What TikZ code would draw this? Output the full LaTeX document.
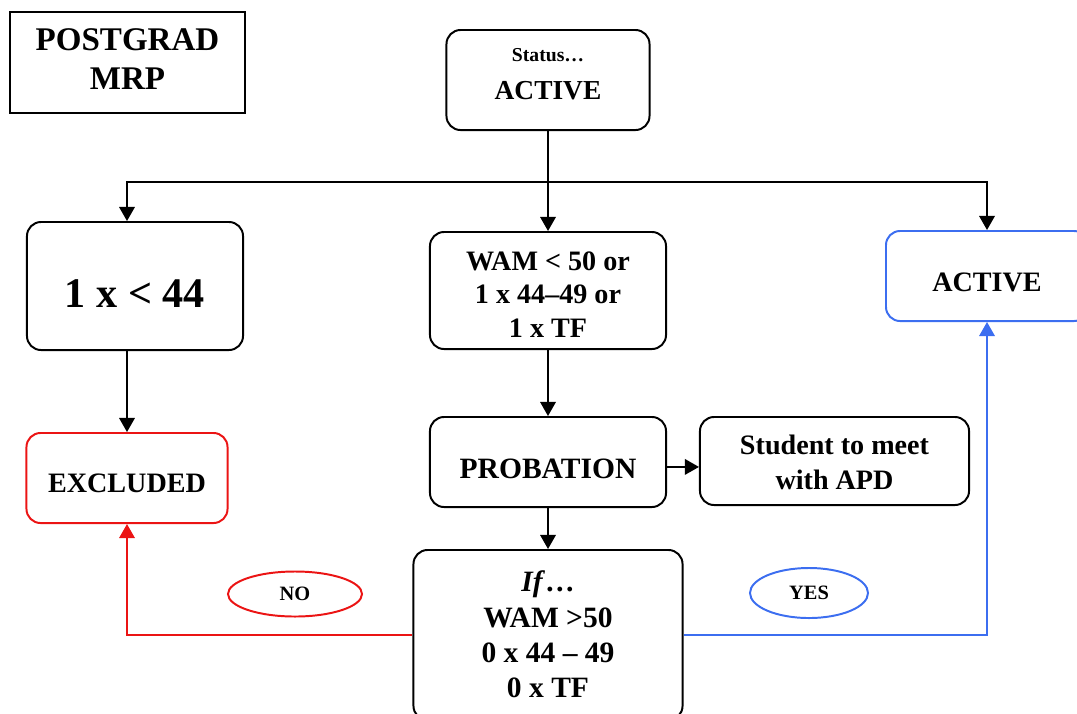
\documentclass[tikz,border=0pt]{standalone}
\usepackage{fontspec}
\setmainfont{Liberation Serif}
\usetikzlibrary{arrows.meta,shapes.geometric}
\definecolor{okblue}{RGB}{60,110,240}
\definecolor{nored}{RGB}{235,20,20}
% lines of a box, moved up or down inside it
\newcommand{\boxlines}[2]{\raisebox{#1}[\height][\depth]{\begin{tabular}{@{}c@{}}#2\end{tabular}}}
\begin{document}
\begin{tikzpicture}[x=0.025cm,y=-0.025cm,
  box/.style={draw,line width=1.4pt,rounded corners=10pt,inner sep=0pt,
    font=\fontsize{20}{24}\selectfont\bfseries},
  oval/.style={draw,ellipse,line width=1.4pt,inner sep=0pt,font=\fontsize{14.5}{16}\selectfont\bfseries},
  arr/.style={line width=1.4pt,-{Triangle[length=10pt,width=11pt]}}]
  \useasboundingbox (0,0) rectangle (1077,713);
  \clip (0,0) rectangle (1077,713);
  \node[box,rounded corners=0pt,minimum width=5.875cm,minimum height=2.525cm,
    font=\fontsize{23.5}{27.7}\selectfont\bfseries] (title) at (127.5,62.5)
    {\boxlines{0pt}{POSTGRAD\\MRP}};
  \node[box,minimum width=5.075cm,minimum height=2.5cm,font=\fontsize{19.5}{27}\selectfont\bfseries]
    (status) at (548,80) {\boxlines{5pt}{{\fontsize{14}{16}\selectfont Status\ldots}\\ACTIVE}};
  \node[box,minimum width=5.4cm,minimum height=3.2cm,font=\fontsize{30}{34}\selectfont\bfseries]
    (less44) at (135,286) {\boxlines{-8.8pt}{1 x < 44}};
  \node[box,minimum width=5.9cm,minimum height=2.925cm,font=\fontsize{20}{23.8}\selectfont\bfseries]
    (wam) at (548,290.5) {\boxlines{-4.7pt}{WAM < 50 or\\1 x 44--49 or\\1 x TF}};
  \node[box,draw=okblue,minimum width=5.05cm,minimum height=2.25cm] (active) at (987,276)
    {\boxlines{-6.4pt}{ACTIVE}};
  \node[box,draw=nored,minimum width=5.025cm,minimum height=2.25cm] (excl) at (127,478)
    {\boxlines{-5.3pt}{EXCLUDED}};
  \node[box,minimum width=5.9cm,minimum height=2.25cm,font=\fontsize{21}{24}\selectfont\bfseries]
    (prob) at (548,462) {\boxlines{-6.8pt}{PROBATION}};
  \node[box,minimum width=6.725cm,minimum height=2.2cm,font=\fontsize{20}{25}\selectfont\bfseries]
    (apd) at (834.5,461) {\boxlines{-2.7pt}{Student to meet\\with APD}};
  \node[box,minimum width=6.725cm,minimum height=4.25cm,font=\fontsize{21}{25}\selectfont\bfseries]
    (cond) at (548,635) {\boxlines{-1.9pt}{\textit{If}\ldots\\WAM >50\\0 x 44 -- 49\\0 x TF}};
  \node[oval,draw=nored,minimum width=3.35cm,minimum height=1.125cm] (no) at (295,594) {NO};
  \node[oval,draw=okblue,minimum width=2.95cm,minimum height=1.25cm] (yes) at (809,593) {YES};
  % branch under the status box
  \coordinate (brL) at (127,182);
  \coordinate (brM) at (548,182);
  \coordinate (brR) at (987,182);
  \draw[arr] (status.south) -- (wam.north);
  \draw[arr] (brM) -- (brL) -- (brL |- less44.north);
  \draw[arr] (brM) -- (brR) -- (active.north);
  \draw[arr] (excl.north |- less44.south) -- (excl.north);
  \draw[arr] (wam.south) -- (prob.north);
  \draw[arr] ([yshift=-3.5pt]prob.east) -- ([yshift=-3.5pt]prob.east -| apd.west);
  \draw[arr] (prob.south) -- (cond.north);
  \draw[arr,nored] (cond.west) -| (excl.south);
  \draw[arr,okblue] (cond.east) -| (active.south);
\end{tikzpicture}
\end{document}
